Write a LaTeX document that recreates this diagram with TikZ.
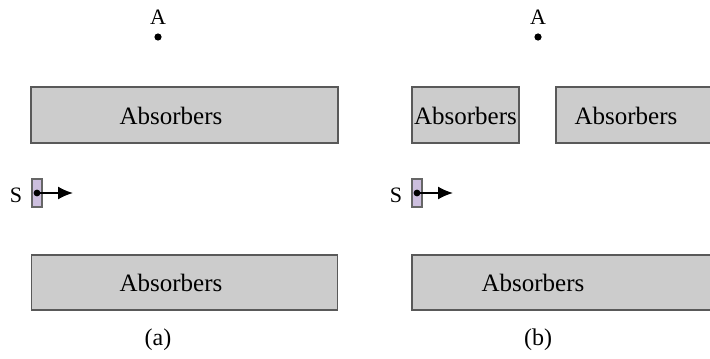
\documentclass[tikz,border=0pt]{standalone}
\usepackage{fontspec}
\setmainfont{Liberation Serif}
\usepackage{tikz}
\usetikzlibrary{arrows.meta,positioning,shapes}
\definecolor{absfill}{RGB}{204,204,204}
\definecolor{srcfill}{RGB}{204,190,222}

\begin{document}
\begin{tikzpicture}
		    		[x=0.5pt,y=-0.5pt,>={Latex[length=7.5pt,width=6.5pt]},
				 absorber/.style = {draw=black!65, fill=absfill, line width=0.6pt, shape=rectangle, inner sep=0pt},
				   source/.style = {draw=black!60, fill=srcfill, line width=0.6pt, shape=rectangle, inner sep=0pt,
										minimum width=5pt, minimum height=14pt},
				      dot/.style = {fill, shape=circle, inner sep=0pt, minimum size=3.4pt},
				    label/.style = {inner sep=0pt, font=\fontsize{12.5}{14}\selectfont},
				   letter/.style = {inner sep=0pt, font=\fontsize{11}{13}\selectfont},
		             ]
			\useasboundingbox (0,0) rectangle (710,358);

			% panel (a)
			\node [absorber, minimum width=153.5pt, minimum height=28pt] (topa) at (184.5,115)   {};
			\node [absorber, minimum width=153pt,   minimum height=27.5pt] (bota) at (184.5,282.5) {};
			\node [label] (topatxt) at (171,116) {Absorbers};
			\node [label] (botatxt) at (171,283) {Absorbers};
			\node [dot, minimum size=3.6pt] (pointa) at (158,37) {};
			\node [letter, above=4pt of pointa] (namea) {A};
			\node [source] (srca) at (37,193) {};
			\node [dot] (srcdota) at (37,193) {};
			\node [letter] (sa) at (16,195) {S};
			\coordinate (tipa) at (73,193);
			\node [label, font=\fontsize{12}{14}\selectfont] (capa) at (158,340) {(a)};

			% panel (b)
			\node [absorber, minimum width=53.5pt, minimum height=28pt] (topbl) at (465.5,115) {};
			\node [absorber, minimum width=78pt,   minimum height=28pt] (topbr) at (634,115)   {};
			\node [absorber, minimum width=150pt,  minimum height=27.5pt] (botb) at (562,282.5) {};
			\node [label] (topbltxt) at (465.5,116) {Absorbers};
			\node [label] (topbrtxt) at (626,116)   {Absorbers};
			\node [label] (botbtxt)  at (533,283)   {Absorbers};
			\node [dot, minimum size=3.6pt] (pointb) at (538,37) {};
			\node [letter, above=4pt of pointb] (nameb) {A};
			\node [source] (srcb) at (417,193) {};
			\node [dot] (srcdotb) at (417,193) {};
			\node [letter] (sb) at (396,195) {S};
			\coordinate (tipb) at (453,193);
			\node [label, font=\fontsize{12}{14}\selectfont] (capb) at (538,340) {(b)};

			\draw[->, line width=0.9pt] (srcdota.center) -- (tipa);
			\draw[->, line width=0.9pt] (srcdotb.center) -- (tipb);
\end{tikzpicture}
\end{document}
